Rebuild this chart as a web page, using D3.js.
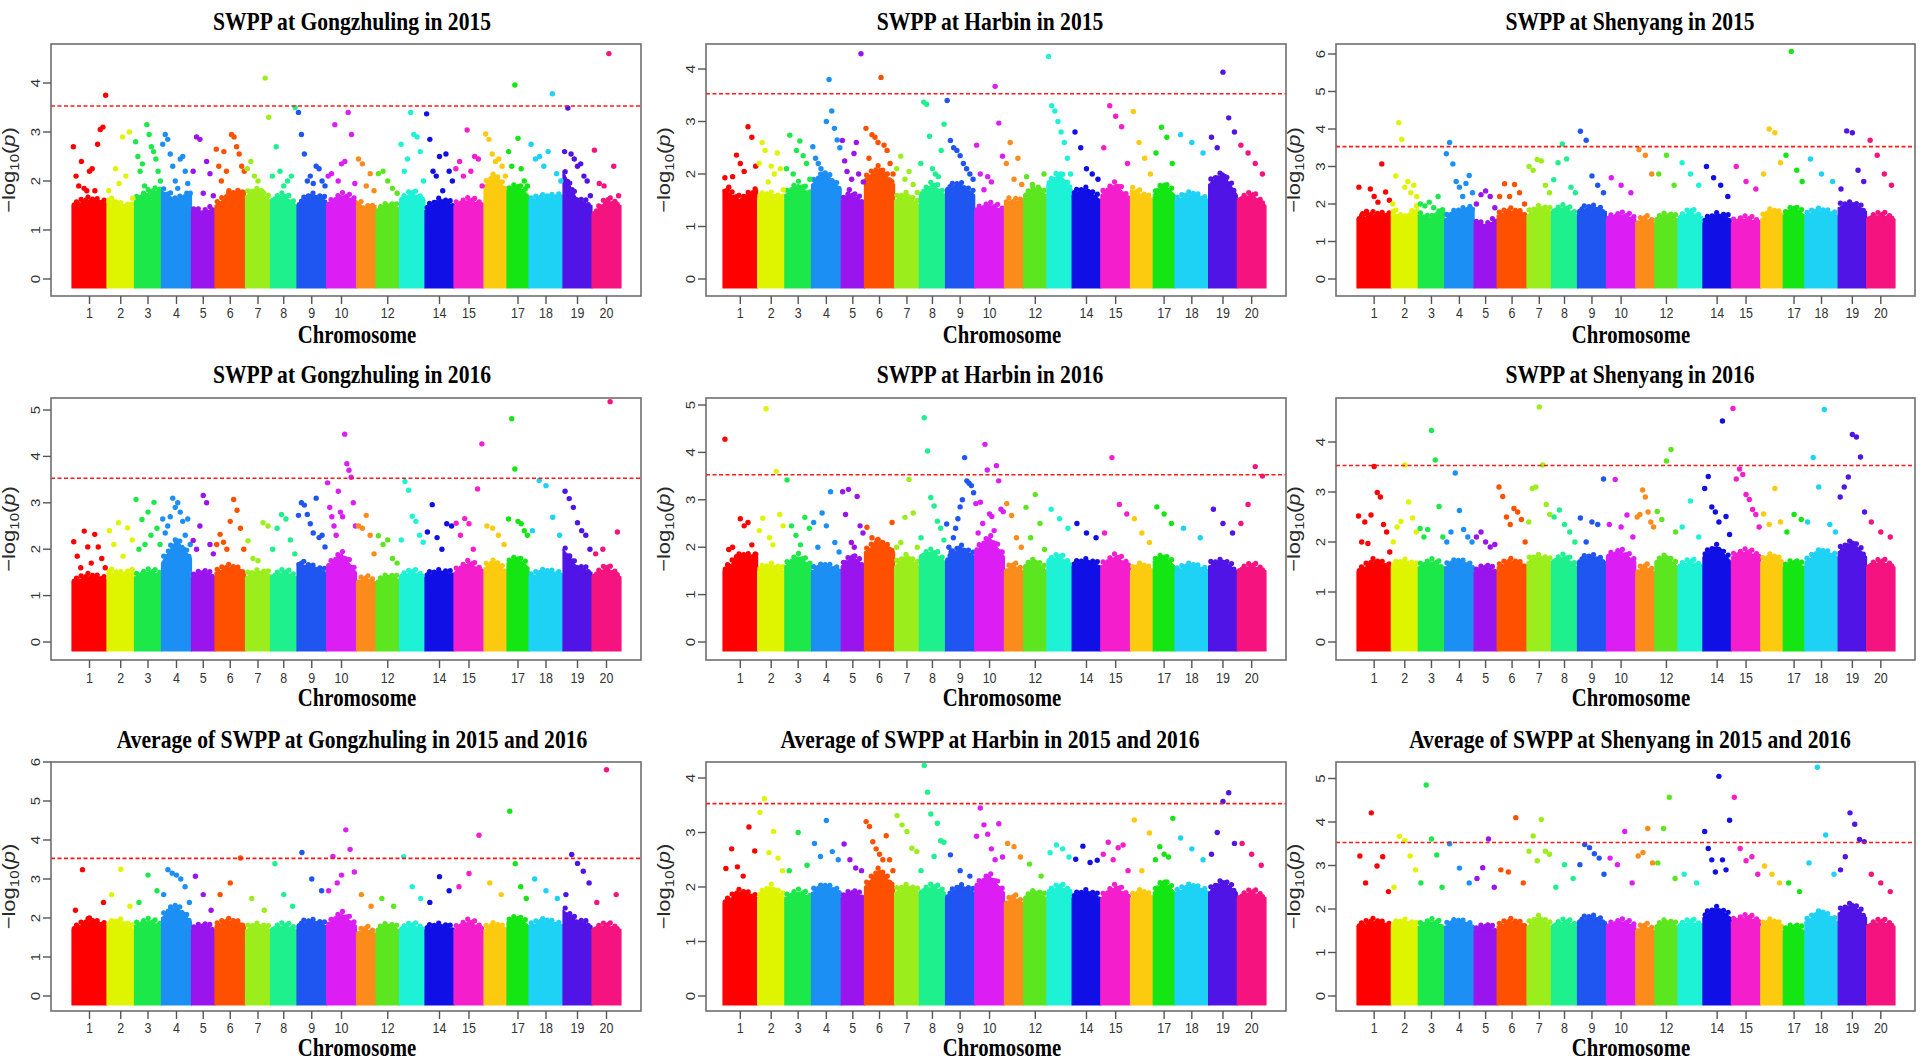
<!DOCTYPE html>
<html><head><meta charset="utf-8">
<script src="https://cdn.jsdelivr.net/npm/d3@7"></script>
<style>body{margin:0;background:#fff}svg{display:block}</style>
</head><body>
<svg id="c" width="1924" height="1062"></svg>
<script>
// ---------------- DATA ----------------
const chromosomes = d3.range(1, 21);
const chrSizes = [35,27.5,27,30,23.5,30.5,25,26.5,29.5,30,19.5,23.5,25.5,29,30,23,22,34,29,29];
const tickChromosomes = [1,2,3,4,5,6,7,8,9,10,12,14,15,17,18,19,20];
const chrColors = ["#ff0000","#dff500","#1de84a","#1c8ff5","#9a14ee","#ff5000","#9bee1c","#1ef08e","#1f55f0","#dc1ef5",
                   "#fb8b1a","#5ce61f","#1ef2d6","#1010e6","#f51ecd","#fccb10","#14e614","#1ed2f5","#5014e6","#f5147f"];
const threshold = 3.53;
const titles = ["SWPP at Gongzhuling in 2015","SWPP at Harbin in 2015","SWPP at Shenyang in 2015",
  "SWPP at Gongzhuling in 2016","SWPP at Harbin in 2016","SWPP at Shenyang in 2016",
  "Average of SWPP at Gongzhuling in 2015 and 2016","Average of SWPP at Harbin in 2015 and 2016","Average of SWPP at Shenyang in 2015 and 2016"];
const yTickMax = [4,4,6,5,5,4,6,4,5];

// dense-region tops (-log10 p) per chromosome: [start, middle, end]
const baseGZL2015 = [[1.5,1.6,1.55],[1.6,1.5,1.45],[1.6,1.75,1.8],[1.8,1.6,1.75],[1.4,1.35,1.45],[1.5,1.7,1.8],[1.7,1.8,1.6],[1.6,1.7,1.5],[1.5,1.7,1.6],[1.5,1.7,1.6],
  [1.6,1.4,1.5],[1.4,1.5,1.45],[1.6,1.75,1.6],[1.4,1.6,1.5],[1.5,1.6,1.5],[1.9,2.1,1.8],[1.8,1.9,1.7],[1.6,1.65,1.7],[2.2,1.6,1.5],[1.3,1.6,1.5]];
const baseHRB2015 = [[1.7,1.5,1.7],[1.55,1.6,1.5],[1.6,1.8,1.6],[1.8,2.0,1.7],[1.5,1.6,1.45],[1.9,2.1,1.8],[1.5,1.6,1.4],[1.6,1.8,1.6],[1.7,1.8,1.6],[1.3,1.4,1.3],
  [1.5,1.45,1.5],[1.6,1.7,1.6],[1.8,2.0,1.7],[1.6,1.7,1.5],[1.6,1.8,1.5],[1.7,1.6,1.5],[1.6,1.8,1.6],[1.5,1.6,1.5],[1.8,2.0,1.6],[1.5,1.6,1.4]];
const baseSY2015 = [[1.6,1.7,1.7],[1.8,1.6,1.9],[1.7,1.6,1.8],[1.6,1.8,1.9],[1.5,1.4,1.6],[1.7,1.8,1.7],[1.7,1.9,1.8],[1.8,1.9,1.7],[1.8,1.9,1.8],[1.6,1.7,1.6],
  [1.5,1.6,1.5],[1.6,1.7,1.6],[1.6,1.8,1.6],[1.5,1.7,1.6],[1.5,1.6,1.5],[1.6,1.8,1.7],[1.7,1.9,1.7],[1.7,1.8,1.7],[1.9,2.0,1.8],[1.6,1.7,1.6]];
const baseGZL2016 = [[1.3,1.4,1.35],[1.5,1.45,1.5],[1.4,1.5,1.45],[1.7,2.2,1.8],[1.4,1.5,1.4],[1.5,1.6,1.5],[1.4,1.5,1.45],[1.4,1.5,1.4],[1.7,1.6,1.5],[1.6,1.9,1.5],
  [1.3,1.35,1.3],[1.3,1.4,1.35],[1.4,1.5,1.4],[1.4,1.5,1.45],[1.5,1.7,1.5],[1.6,1.7,1.5],[1.7,1.8,1.6],[1.4,1.5,1.45],[2.0,1.6,1.5],[1.4,1.6,1.4]];
const baseHRB2016 = [[1.5,1.8,1.8],[1.5,1.6,1.5],[1.6,1.8,1.6],[1.5,1.6,1.5],[1.6,1.8,1.6],[1.9,2.1,1.9],[1.6,1.8,1.6],[1.8,1.9,1.7],[1.7,2.0,1.8],[1.9,2.2,1.8],
  [1.5,1.6,1.5],[1.6,1.7,1.5],[1.7,1.8,1.6],[1.6,1.7,1.6],[1.6,1.8,1.6],[1.5,1.6,1.5],[1.7,1.8,1.6],[1.5,1.6,1.5],[1.6,1.7,1.5],[1.5,1.6,1.5]];
const baseSY2016 = [[1.4,1.6,1.5],[1.5,1.6,1.5],[1.5,1.6,1.5],[1.5,1.6,1.5],[1.4,1.5,1.4],[1.5,1.6,1.5],[1.6,1.7,1.6],[1.6,1.7,1.5],[1.6,1.7,1.6],[1.7,1.8,1.6],
  [1.4,1.5,1.4],[1.6,1.7,1.5],[1.5,1.6,1.5],[1.7,1.9,1.6],[1.7,1.8,1.7],[1.6,1.7,1.6],[1.5,1.6,1.5],[1.6,1.8,1.7],[1.8,2.0,1.7],[1.5,1.6,1.5]];
const baseGZLavg = [[1.7,1.9,1.8],[1.8,1.9,1.7],[1.8,1.9,1.8],[2.0,2.3,1.9],[1.7,1.8,1.7],[1.8,1.9,1.8],[1.7,1.8,1.7],[1.7,1.8,1.7],[1.8,1.9,1.8],[1.8,2.1,1.8],
  [1.6,1.7,1.6],[1.7,1.8,1.7],[1.7,1.8,1.7],[1.7,1.8,1.7],[1.7,1.9,1.7],[1.7,1.8,1.7],[1.9,2.0,1.8],[1.8,1.9,1.8],[2.2,1.9,1.8],[1.7,1.8,1.7]];
const baseHRBavg = [[1.7,1.9,1.8],[1.8,2.0,1.8],[1.8,1.9,1.8],[1.9,2.0,1.9],[1.8,1.9,1.8],[2.0,2.3,2.0],[1.9,2.0,1.9],[1.9,2.0,1.9],[1.8,2.0,1.9],[2.0,2.2,1.9],
  [1.7,1.8,1.7],[1.8,1.9,1.8],[1.9,2.0,1.9],[1.8,1.9,1.8],[1.8,2.0,1.8],[1.8,1.9,1.8],[1.9,2.1,1.9],[1.9,2.0,1.9],[1.9,2.1,1.9],[1.8,1.9,1.8]];
const baseSYavg = [[1.6,1.7,1.6],[1.6,1.7,1.6],[1.6,1.7,1.6],[1.6,1.7,1.6],[1.5,1.6,1.5],[1.6,1.7,1.6],[1.6,1.8,1.6],[1.6,1.7,1.6],[1.7,1.8,1.7],[1.6,1.7,1.6],
  [1.5,1.6,1.5],[1.6,1.7,1.6],[1.6,1.7,1.6],[1.8,2.0,1.8],[1.7,1.8,1.7],[1.6,1.7,1.6],[1.5,1.6,1.5],[1.7,1.9,1.7],[1.9,2.1,1.8],[1.6,1.7,1.6]];

// scattered SNPs above the dense region, in order along each chromosome
const ptsGZL2015 = [[2.7,2.1,1.9,2.4,1.85,1.8,2.2,2.25,1.8,2.75,3.05,3.1,3.75],[1.8,1.6,2.25,1.95,2.9,2.1,3.0,1.65],[2.8,2.5,2.2,2.35,1.9,3.15,2.95,2.7,2.6,2.45,2.2,2.0],
  [2.75,2.95,2.85,2.55,2.3,2.0,1.85,2.45,2.5,2.2,1.95,1.75],[2.2,2.9,2.85,1.75,2.4,2.15,1.7],[2.65,2.3,2.0,2.6,2.2,1.8,2.95,2.9,2.7,2.55,2.3,2.2],
  [2.25,2.4,2.1,2.0,1.8,4.1,3.3],[2.1,2.7,2.2,1.9,2.0,2.1,3.5],[3.4,2.95,2.55,2.0,2.1,1.95,2.3,2.25,2.0,1.9],[2.1,2.15,3.15,2.0,2.35,2.4,3.4,2.95,1.95],
  [2.45,2.35,1.9,2.15,1.8],[2.15,2.2,2.0,1.85,1.75],[2.75,2.2,2.45,3.4,2.95,2.9,2.6,2.0],[3.37,2.85,2.2,2.1,2.5,1.8,2.55,2.2,2.0],[2.25,2.4,2.1,3.04,2.2,2.5,2.45,1.9],
  [2.96,2.85,2.55,2.4,2.45,2.3,2.1],[2.6,2.3,3.96,2.87,2.25,2.0,1.9],[2.75,2.45,2.5,2.3,2.6,3.78,2.15,2.0],[2.6,3.49,2.55,2.45,2.3,2.35,2.1,2.0,1.7],[2.63,1.95,1.9,4.6,2.3,1.7]];
const ptsHRB2015 = [[1.93,1.75,1.95,2.36,2.2,2.05,2.9,2.7,2.15],[2.2,2.6,2.45,1.85,2.15,2.0,2.4,2.1,1.7],[2.1,2.74,2.0,2.45,2.63,2.35,2.2,1.9],
  [2.52,2.3,2.2,2.1,2.0,3.0,3.8,3.2,2.87,2.65,2.5],[2.64,2.25,2.05,1.7,1.9,2.39,2.6,2.0,4.29,1.85],[2.87,2.3,2.75,2.7,2.6,3.84,2.55,2.45,2.2,2.0],
  [2.1,2.34,1.9,2.05,1.8,1.65],[2.2,3.37,3.33,2.72,2.1,2.0,1.95,2.45,2.95],[3.4,2.64,2.5,2.45,2.35,2.2,2.1,2.0,1.9],[2.55,2.0,1.7,1.95,1.85,3.67,2.97,2.34],
  [2.2,2.6,1.9,2.3,1.8],[1.95,1.8,1.75,2.0],[4.24,3.3,3.2,3.0,2.8,2.6,2.3,2.0],[2.8,2.5,2.1,2.0,1.9],[2.5,3.3,3.1,2.9,2.2],
  [3.19,2.6,2.3,2.0],[2.4,2.89,2.7,2.2],[2.75,2.6,2.4],[2.7,2.5,3.94,3.07,2.8],[2.55,2.4,2.2,2.0]];
const ptsSY2015 = [[2.45,1.74,1.8,2.4,2.2,2.05,3.07,2.32,2.1],[2.0,2.75,4.17,3.72,2.45,2.6,2.3,2.5,2.2],[2.0,1.95,2.05,1.9,2.2,1.85],
  [3.34,3.64,3.07,2.6,2.45,2.2,2.55,2.76,2.3],[2.0,2.25,2.35,2.2,1.9],[2.2,2.54,2.2,2.52,2.3,2.0],[3.0,2.9,3.19,3.15,2.5,2.3],
  [2.65,3.1,3.6,3.2,2.45,2.3],[3.94,3.7,2.75,2.5,2.3],[2.7,2.5,2.3],[3.45,3.3,2.8],[2.8,3.3,2.5],[3.1,2.8,2.5],[3.0,2.7,2.5,2.2],[3.0,2.6,2.4],
  [2.8,4.0,3.9,3.1],[3.3,6.07,2.9,2.6],[3.2,2.8,2.6],[2.4,3.95,3.9,2.9,2.6],[3.7,3.3,2.8,2.5]];
const ptsGZL2016 = [[2.16,1.85,1.6,2.39,2.05,1.7,2.32,2.05,1.8,1.6],[2.4,2.1,2.57,1.85,2.46,2.2],[3.07,2.0,2.64,2.1,2.8,2.3,3.01,2.45,2.1],
  [2.65,2.35,2.5,2.7,3.1,2.9,3.0,2.8,2.6,2.3,2.65,2.1],[2.19,2.0,2.5,3.16,3.0,2.1,1.9],[2.1,2.32,2.15,2.0,2.6,3.07,2.84,2.45,2.0],
  [2.18,1.8,1.75,2.57,2.5],[2.0,2.45,2.75,2.65,2.2,1.9],[2.73,3.0,2.95,2.75,2.55,2.35,3.1,2.25,2.3,2.05],
  [3.43,2.9,2.7,2.5,2.3,3.25,2.8,2.7,4.48,3.84,3.7,3.55,3.0,2.5],[2.5,2.45,2.73,2.3,1.9],[2.29,2.1,2.2,1.8,1.7],[2.2,3.46,3.27,2.71,2.6,2.3,2.15],
  [2.37,2.96,2.25,2.0,2.55,2.5],[2.56,2.3,2.66,2.55,2.0,3.3,4.27],[2.5,2.45,2.3,2.1],[2.65,4.81,3.73,2.6,2.55,2.4,2.3],[2.4,3.48,3.37,2.69,2.3],
  [3.25,3.09,2.9,2.57,2.4,2.3,2.0],[1.9,2.0,5.18,2.37]];
const ptsHRB2016 = [[4.28,1.95,2.0,1.8,2.6,2.45,2.52,2.05,1.85],[2.35,2.61,4.92,2.2,2.05,3.6,2.69,2.45],[3.42,2.45,2.25,2.05,2.63,2.4],
  [2.52,2.0,2.72,2.45,3.17,2.1,1.9],[3.17,2.69,3.22,2.1,2.0,3.07,2.45,2.3],[2.42,2.2,2.15,2.1,2.0,2.52],[2.0,2.1,2.63,3.43,2.72,2.0],
  [2.2,4.73,4.03,3.05,2.87,2.55,2.4,2.15],[2.49,2.0,1.9,2.2,2.4,2.6,2.85,3.0,3.89,3.4,3.35,3.3,3.15],
  [2.92,2.3,2.95,2.5,4.17,3.63,2.7,2.65,2.35,3.72,3.4,2.8,2.75],[2.92,2.67,2.2,2.0],[2.84,2.2,3.11,2.5,1.95],[2.8,2.6,2.4],[2.5,2.3,2.2],
  [2.3,3.89,2.9,2.7],[2.6,2.3,2.1],[2.85,2.7,2.5],[2.4,2.2],[2.8,2.5,2.3],[2.5,2.9,3.7,3.5]];
const ptsSY2016 = [[2.52,2.0,2.4,1.97,2.54,3.51,2.99,2.9,2.35,2.2,1.8],[2.0,2.3,2.41,3.54,2.8,2.48,2.2],[2.27,2.1,2.25,4.23,3.64,2.71,2.1],
  [2.0,2.2,3.38,2.63,2.25,2.1,2.0],[2.1,2.2,2.0,1.9,1.95],[3.1,2.91,2.5,2.35,2.67,2.6,2.45,2.0],[2.4,3.07,3.1,4.7,3.54,2.75,2.55],
  [2.5,2.64,2.35,2.2,2.0],[2.48,2.0,2.4,2.35,3.26],[2.35,3.25,2.3,2.54,2.1],[2.5,2.55,3.04,2.9,2.6,2.4,2.3],[2.61,2.45,3.62,3.85,2.2],
  [2.3,2.82,2.1],[3.07,3.31,2.7,2.6,2.4,4.42,2.51,2.15],[4.67,3.26,3.46,3.35,2.95,2.85,2.65,2.55,2.3],[2.56,2.35,3.07,2.4],[2.2,2.55,2.45],
  [2.4,3.69,3.1,4.65,2.35,2.2],[2.9,3.1,3.3,4.15,4.1,3.7,2.6],[2.4,2.2,2.1]];
const ptsGZLavg = [[2.2,3.24,2.0,1.9,2.4],[2.6,3.25,2.3],[2.4,3.1,2.7],[2.6,3.24,3.15,3.1,3.0,2.8,2.4],[3.07,2.6,2.2],[2.6,2.9,3.54],[2.5,2.2],
  [3.39,2.6,2.3],[3.68,3.0,2.7],[2.7,3.58,2.9,3.1,4.26,3.76,3.18],[2.6,2.3],[2.5,2.3],[3.57,2.8,2.5],[2.4,3.06,2.7],[2.8,3.14,4.12],[2.9,2.6],
  [4.74,3.39,2.8,2.5],[3.0,2.7,2.5],[2.6,3.63,3.4,3.2,2.9],[2.4,5.8,2.6]];
const ptsHRBavg = [[2.34,2.7,2.37,2.2,3.1,2.66],[3.37,3.62,2.63,3.02,2.53,2.3],[2.3,3.0,2.4],[2.8,2.56,3.22,2.65,2.5],[2.79,2.5,2.35,2.3],
  [3.2,3.11,2.83,2.7,2.6,2.5,2.94,2.5,2.3],[3.31,3.14,3.02,2.71,2.65],[2.3,4.23,3.74,3.34,2.56,3.17,2.85,2.82],[2.59,2.3,2.2],
  [2.93,3.45,3.14,2.97,2.7,2.5,3.16,2.55],[2.8,2.74,2.55],[2.42,2.2],[2.63,2.77,2.7,2.55],[2.51,2.75,2.45,2.49],[2.6,2.82,2.5,2.72,2.77,2.3],
  [3.23,2.3,2.99],[2.5,2.74,2.6,2.55,3.26],[2.9,2.7,2.5],[2.6,3.0,3.57,3.73,2.8],[2.8,2.6,2.4]];
const ptsSYavg = [[3.22,2.6,4.21,2.99,3.2,2.4],[2.5,3.67,3.57,3.22,2.9],[2.6,4.85,3.61,3.24,2.5],[3.5,2.94,2.6],[2.7,2.95,3.61,2.5],[2.9,2.85,4.1,2.6],
  [3.33,3.68,3.11,4.06,3.33,3.26],[2.5,3.02,2.7],[3.02,3.48,3.41,3.27,3.17,2.8],[3.17,3.02,3.78,2.6],[3.22,3.3,3.85,3.06],[3.06,3.85,4.57,2.7],
  [2.8,2.6],[3.78,3.39,3.13,2.85,5.05,3.13,2.9,4.04],[4.57,3.39,3.11,3.2,2.8],[2.99,2.8,2.6],[2.6,2.4],[3.06,5.26,3.7,2.8],
  [2.9,3.2,4.21,3.95,3.6,3.55],[2.8,2.6,2.4]];

const panelData = [
  {base: baseGZL2015, pts: ptsGZL2015}, {base: baseHRB2015, pts: ptsHRB2015}, {base: baseSY2015, pts: ptsSY2015},
  {base: baseGZL2016, pts: ptsGZL2016}, {base: baseHRB2016, pts: ptsHRB2016}, {base: baseSY2016, pts: ptsSY2016},
  {base: baseGZLavg, pts: ptsGZLavg}, {base: baseHRBavg, pts: ptsHRBavg}, {base: baseSYavg, pts: ptsSYavg}];

// ---------------- LAYOUT ----------------
const cols = [{box:[51,641], data:[72,621], tx:352, xl:357},
              {box:[706,1286], data:[723,1266], tx:990, xl:1002},
              {box:[1336,1915], data:[1357,1895], tx:1630, xl:1631}];
const rows = [{top:44, bottom:296, zero:279, title:30, tick:318, xl:343},
              {top:398, bottom:660, zero:642, title:383, tick:683, xl:706},
              {top:762, bottom:1011, zero:996, title:748, tick:1033, xl:1056}];
const unitPx = [49,52.5,37.5,46.4,47.4,50,39,54.5,43.5];
const SX = 0.83;
const edgeJitterPx = [0,-2.5,1,-3.5,0.5,-1.5,-4,1,-2,0,-3,0.5];   // ragged look of the dense edge (style)

const svg = d3.select("#c");
const total = d3.sum(chrSizes);
const cum = d3.cumsum(chrSizes).map((v, i) => v - chrSizes[i]);

panelData.forEach((pd, k) => {
  const col = cols[k % 3], row = rows[Math.floor(k / 3)];
  const [L, R] = col.box, T = row.top, B = row.bottom;
  const x = d3.scaleLinear().domain([0, total]).range(col.data);
  const y = d3.scaleLinear().domain([0, 1]).range([row.zero, row.zero - unitPx[k]]);
  const g = svg.append("g");
  g.append("clipPath").attr("id", "cp" + k).append("rect")
    .attr("x", L).attr("y", T).attr("width", R - L).attr("height", B - T);
  const plot = g.append("g").attr("clip-path", `url(#cp${k})`);

  // dense regions
  const area = d3.area().x(d => x(d[0])).y0(row.zero + 9).y1(d => y(d[1])).curve(d3.curveLinear);
  chromosomes.forEach((c, i) => {
    const prof = pd.base[i];
    const line = prof.map((v, j) => [cum[i] + chrSizes[i] * j / (prof.length - 1), v]);
    plot.append("path").attr("d", area(line)).attr("fill", chrColors[i])
      .attr("stroke", chrColors[i]).attr("stroke-width", 1.2).attr("stroke-linejoin", "round");
    // dotted ragged edge following the dense-region top
    const x0 = x(cum[i]), x1 = x(cum[i] + chrSizes[i]);
    const topAt = d3.scaleLinear().domain(prof.map((v, j) => x0 + (x1 - x0) * j / (prof.length - 1))).range(prof);
    const edge = d3.range(x0 + 2.2, x1 - 1.5, 2.3);
    plot.selectAll(null).data(edge).enter().append("circle")
      .attr("cx", d => d).attr("cy", (d, n) => y(topAt(d)) + edgeJitterPx[(n + i * 5) % edgeJitterPx.length])
      .attr("r", 2.6).attr("fill", chrColors[i]);
  });
  // scattered SNPs
  chromosomes.forEach((c, i) => {
    const vals = pd.pts[i];
    plot.selectAll(null).data(vals).enter().append("circle")
      .attr("cx", (v, j) => x(cum[i] + chrSizes[i] * (j + 0.5) / vals.length))
      .attr("cy", v => y(v)).attr("r", 2.7).attr("fill", chrColors[i]);
  });
  // threshold
  g.append("line").attr("x1", L).attr("x2", R).attr("y1", y(threshold)).attr("y2", y(threshold))
    .attr("stroke", "#ff1a1a").attr("stroke-width", 1.6).attr("stroke-dasharray", "4,2.5");
  // frame
  g.append("rect").attr("x", L).attr("y", T).attr("width", R - L).attr("height", B - T)
    .attr("fill", "none").attr("stroke", "#6e6e6e").attr("stroke-width", 1.6);

  // y axis
  d3.range(0, yTickMax[k] + 1).forEach(v => {
    g.append("line").attr("x1", L - 8).attr("x2", L).attr("y1", y(v)).attr("y2", y(v))
      .attr("stroke", "#555").attr("stroke-width", 1.4);
    g.append("text").attr("transform", `translate(${L - 11},${y(v)}) scale(${SX},1) rotate(-90)`)
      .attr("text-anchor", "middle").attr("fill", "#333")
      .style("font", '15px "Liberation Sans", Arial, sans-serif').text(v);
  });
  const yl = g.append("text")
    .attr("transform", `translate(${L - 36},${(T + B) / 2}) scale(${SX},1) rotate(-90)`)
    .attr("text-anchor", "middle").attr("fill", "#2a2a2a")
    .style("font", '22px "Liberation Sans", Arial, sans-serif');
  yl.append("tspan").text("\u2212log");
  yl.append("tspan").attr("font-size", "15px").attr("dy", 5).text("10");
  yl.append("tspan").attr("dy", -5).text("(");
  yl.append("tspan").attr("font-style", "italic").text("p");
  yl.append("tspan").text(")");

  // x axis
  tickChromosomes.forEach(c => {
    const i = c - 1, cx = x(cum[i] + chrSizes[i] / 2);
    g.append("line").attr("x1", cx).attr("x2", cx).attr("y1", B).attr("y2", B + 8)
      .attr("stroke", "#555").attr("stroke-width", 1.4);
    g.append("text").attr("transform", `translate(${cx},${row.tick}) scale(${SX},1)`)
      .attr("text-anchor", "middle").attr("fill", "#333")
      .style("font", '15px "Liberation Sans", Arial, sans-serif').text(c);
  });
  g.append("text").attr("transform", `translate(${col.xl},${row.xl}) scale(${SX},1)`)
    .attr("text-anchor", "middle").attr("fill", "#000")
    .style("font", 'bold 25px "Liberation Serif", "Times New Roman", serif').text("Chromosome");
  // title
  g.append("text").attr("transform", `translate(${col.tx},${row.title}) scale(${SX},1)`)
    .attr("text-anchor", "middle").attr("fill", "#000")
    .style("font", 'bold 26px "Liberation Serif", "Times New Roman", serif').text(titles[k]);
});
</script>
</body></html>
